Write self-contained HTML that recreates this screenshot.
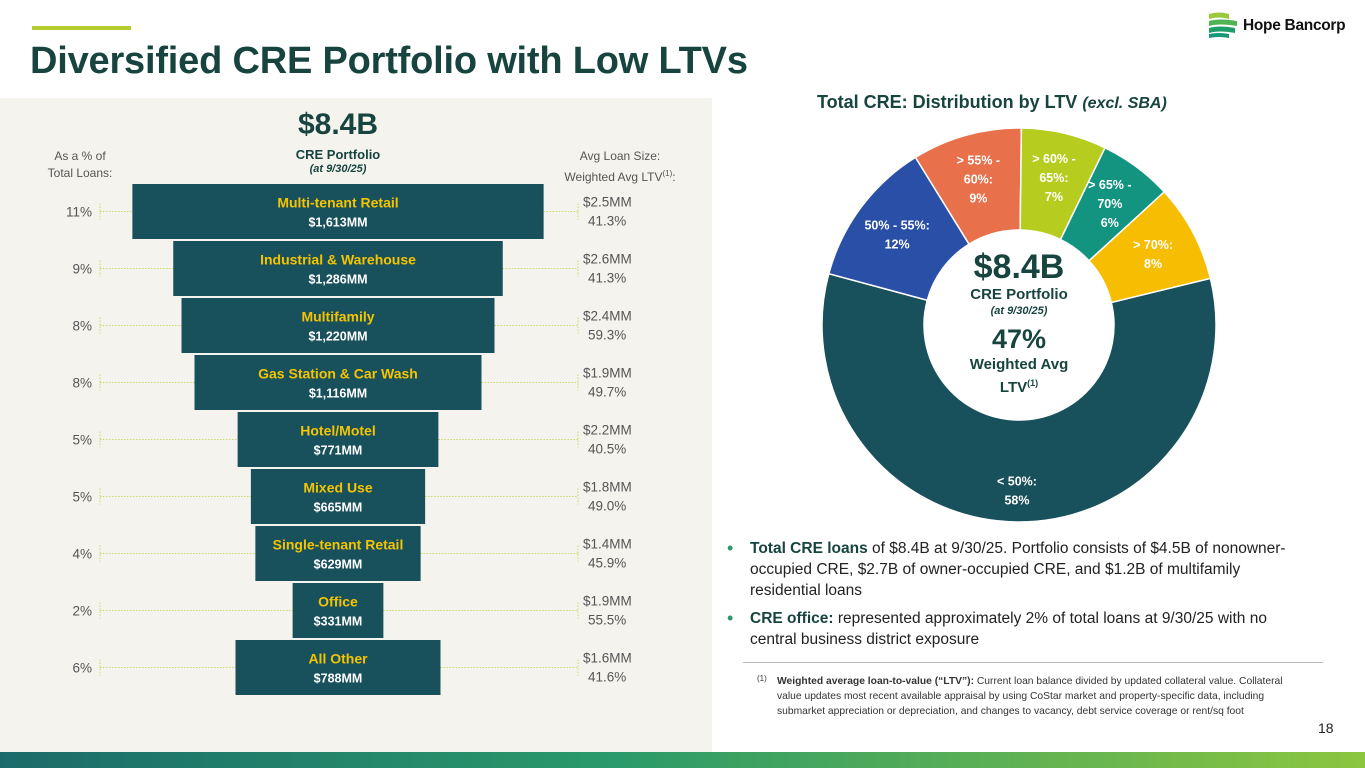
<!DOCTYPE html>
<html><head><meta charset="utf-8">
<style>
body{margin:0;width:1365px;height:768px;position:relative;background:#fff;font-family:"Liberation Sans",sans-serif;overflow:hidden}
.abs{position:absolute}
</style></head><body>
<div class="abs" style="left:32px;top:26px;width:99px;height:4px;background:#b5cc2e"></div>
<div class="abs" style="left:30px;top:40px;font-size:38px;font-weight:bold;color:#17443f;white-space:nowrap;letter-spacing:-0.2px">Diversified CRE Portfolio with Low LTVs</div>
<div class="abs" style="left:1207px;top:11px;width:150px;height:28px">
 <svg width="32" height="28" style="position:absolute;left:0;top:0">
  <path d="M2 3 Q12 0 22 3 L22 8 Q12 5 2 8Z" fill="#9cc83c"/>
  <path d="M2 10 Q12 7 30 10 L30 15 Q12 12 2 15Z" fill="#4fb552"/>
  <path d="M2 17 Q12 14 28 17 L28 22 Q12 19 2 22Z" fill="#1d9e68"/>
  <path d="M2 23 Q12 21 22 23 L22 27 Q12 25 2 27Z" fill="#139a75"/>
 </svg>
 <span style="position:absolute;left:36px;top:6px;font-size:15.5px;font-weight:bold;color:#111;white-space:nowrap;letter-spacing:-0.3px">Hope Bancorp</span>
</div>
<div class="abs" style="left:0;top:98px;width:712px;height:654px;background:#f4f3ee"></div>
<div class="abs" style="left:0;top:752px;width:1365px;height:16px;background:linear-gradient(90deg,#1b6b6a,#2a9a6a 45%,#8cc63f)"></div>

<div class="abs" style="left:238px;top:108px;width:200px;text-align:center;font-size:30px;font-weight:bold;color:#17443f">$8.4B</div>
<div class="abs" style="left:238px;top:147px;width:200px;text-align:center;font-size:13px;font-weight:bold;color:#17443f">CRE Portfolio</div>
<div class="abs" style="left:238px;top:163px;width:200px;text-align:center;font-size:11px;font-style:italic;font-weight:bold;color:#17443f">(at 9/30/25)</div>
<div class="abs" style="left:30px;top:148px;width:100px;text-align:center;font-size:12px;color:#555;line-height:17px">As a % of<br>Total Loans:</div>
<div class="abs" style="left:540px;top:148px;width:160px;text-align:center;font-size:12px;color:#555;line-height:17px">Avg Loan Size:<br>Weighted Avg LTV<sup style="font-size:8px">(1)</sup>:</div>
<svg id="funnel" class="abs" style="left:0;top:0" width="712" height="752"></svg>

<div class="abs" style="left:817px;top:92px;font-size:18px;font-weight:bold;color:#17443f;white-space:nowrap">Total CRE: Distribution by LTV <i style="font-size:16px">(excl. SBA)</i></div>
<svg id="donut" class="abs" style="left:800px;top:110px" width="440" height="430"></svg>
<div class="abs" style="left:919px;top:248px;width:200px;text-align:center;color:#17443f">
 <div style="font-size:34px;font-weight:bold;line-height:38px">$8.4B</div>
 <div style="font-size:15px;font-weight:bold;line-height:18px">CRE Portfolio</div>
 <div style="font-size:11px;font-style:italic;font-weight:bold;line-height:14px">(at 9/30/25)</div>
 <div style="font-size:27px;font-weight:bold;line-height:34px;margin-top:4px">47%</div>
 <div style="font-size:15px;font-weight:bold;line-height:18px">Weighted Avg<br>LTV<sup style="font-size:9px">(1)</sup></div>
</div>

<div class="abs" style="left:727px;top:538px;width:565px;font-size:15.5px;color:#222;line-height:21px">
 <div style="position:relative;padding-left:23px"><span style="position:absolute;left:0;color:#2a9a6a;font-size:18px">•</span><b style="color:#17443f">Total CRE loans</b> of $8.4B at 9/30/25. Portfolio consists of $4.5B of nonowner-occupied CRE, $2.7B of owner-occupied CRE, and $1.2B of multifamily residential loans</div>
 <div style="position:relative;padding-left:23px;margin-top:7px"><span style="position:absolute;left:0;color:#2a9a6a;font-size:18px">•</span><b style="color:#17443f">CRE office:</b> represented approximately 2% of total loans at 9/30/25 with no central business district exposure</div>
</div>
<div class="abs" style="left:743px;top:662px;width:580px;height:1px;background:#bbb"></div>
<div class="abs" style="left:757px;top:674px;width:545px;font-size:10.3px;color:#333;line-height:15px"><span style="position:absolute;left:0;top:-3px;font-size:8px">(1)</span><div style="padding-left:20px"><b>Weighted average loan-to-value (“LTV”):</b> Current loan balance divided by updated collateral value. Collateral value updates most recent available appraisal by using CoStar market and property-specific data, including submarket appreciation or depreciation, and changes to vacancy, debt service coverage or rent/sq foot</div></div>
<div class="abs" style="left:1318px;top:720px;font-size:14px;color:#222">18</div>

<script>
const categories=["Multi-tenant Retail","Industrial & Warehouse","Multifamily","Gas Station & Car Wash","Hotel/Motel","Mixed Use","Single-tenant Retail","Office","All Other"];
const amountsMM=[1613,1286,1220,1116,771,665,629,331,788];
const pctLabels=["11%","9%","8%","8%","5%","5%","4%","2%","6%"];
const avgLoanSize=["$2.5MM","$2.6MM","$2.4MM","$1.9MM","$2.2MM","$1.8MM","$1.4MM","$1.9MM","$1.6MM"];
const avgLTV=["41.3%","41.3%","59.3%","49.7%","40.5%","49.0%","45.9%","55.5%","41.6%"];

const ltvLabels=[["< 50%:","58%"],["50% - 55%:","12%"],["> 55% -","60%:","9%"],["> 60% -","65%:","7%"],["> 65% -","70%","6%"],["> 70%:","8%"]];
const ltvValues=[58,12,9,7,6,8];
const ltvColors=["#18505c","#2a4fa6","#e8704a","#b6cc1f","#139481","#f7bd00"];

const NS="http://www.w3.org/2000/svg";
function mk(parent,tag,attrs){const e=document.createElementNS(NS,tag);for(const k in attrs)e.setAttribute(k,attrs[k]);parent.appendChild(e);return e;}

const fsvg=document.getElementById('funnel');
const cx=338, top0=184, rowH=57, barH=55;
const wScale=v=>v*0.25+8;
const yRow=i=>top0+i*rowH;
categories.forEach((c,i)=>{
  const w=wScale(amountsMM[i]), y=yRow(i), mid=y+barH/2;
  const l1=mk(fsvg,'line',{x1:100,x2:cx-w/2,y1:mid,y2:mid,stroke:'#c8d86a','stroke-width':1,'stroke-dasharray':'1.5 1.5'});
  
  
  const l2=mk(fsvg,'line',{x1:cx+w/2,x2:578,y1:mid,y2:mid,stroke:'#c8d86a','stroke-width':1,'stroke-dasharray':'1.5 1.5'});
  
  
  mk(fsvg,'line',{x1:100,x2:100,y1:mid-8,y2:mid+8,stroke:'#c8d86a','stroke-dasharray':'1.5 1.5'});
  mk(fsvg,'line',{x1:578,x2:578,y1:mid-8,y2:mid+8,stroke:'#c8d86a','stroke-dasharray':'1.5 1.5'});
  const r=mk(fsvg,'rect',{x:cx-w/2,y:y,width:w,height:barH,fill:'#18505c'});
  
  
  const t1=mk(fsvg,'text',{x:cx,y:mid-4,'text-anchor':'middle','font-size':14,'font-weight':'bold',fill:'#f5c400'});
  t1.textContent=c;
  
  
  const t2=mk(fsvg,'text',{x:cx,y:mid+15,'text-anchor':'middle','font-size':12.5,'font-weight':'bold',fill:'#fff'});
  t2.textContent='$'+amountsMM[i].toLocaleString('en-US')+'MM';
  
  
  const t3=mk(fsvg,'text',{x:92,y:mid+5,'text-anchor':'end','font-size':13.5,fill:'#555'});
  t3.textContent=pctLabels[i];
  
  
  const t4=mk(fsvg,'text',{x:583,y:mid-5,'font-size':13.5,fill:'#555'});
  t4.textContent=avgLoanSize[i];
  
  
  const t5=mk(fsvg,'text',{x:588,y:mid+14,'font-size':13.5,fill:'#555'});
  t5.textContent=avgLTV[i];
  
  
});

const dsvg=document.getElementById('donut');
const dcx=219,dcy=215,R=197,r0=95,start=76.3;
const total=ltvValues.reduce((a,b)=>a+b,0);
const pt=(deg,rad)=>{const a=(deg-90)*Math.PI/180;return [dcx+rad*Math.cos(a),dcy+rad*Math.sin(a)];};
let acc=start;
ltvValues.forEach((v,i)=>{
  const sw=v/total*360, a0=acc, a1=acc+sw; acc=a1;
  const [x0,y0]=pt(a0,R),[x1,y1]=pt(a1,R),[x2,y2]=pt(a1,r0),[x3,y3]=pt(a0,r0);
  const lg=sw>180?1:0;
  const p=mk(dsvg,'path',{d:`M${x0} ${y0} A${R} ${R} 0 ${lg} 1 ${x1} ${y1} L${x2} ${y2} A${r0} ${r0} 0 ${lg} 0 ${x3} ${y3}Z`,fill:ltvColors[i],stroke:'#fff','stroke-width':1.5});
  
  
  const mid=(a0+a1)/2, rr=i===0?165:152;
  const [lx,ly]=pt(mid,rr);
  const lines=ltvLabels[i];
  lines.forEach((s,j)=>{
    const t=mk(dsvg,'text',{x:lx,y:ly+(j-(lines.length-1)/2)*19+5,'text-anchor':'middle','font-size':12.5,'font-weight':'bold',fill:'#fff'});
    t.textContent=s;
    
    
  });
});
</script>
</body></html>
